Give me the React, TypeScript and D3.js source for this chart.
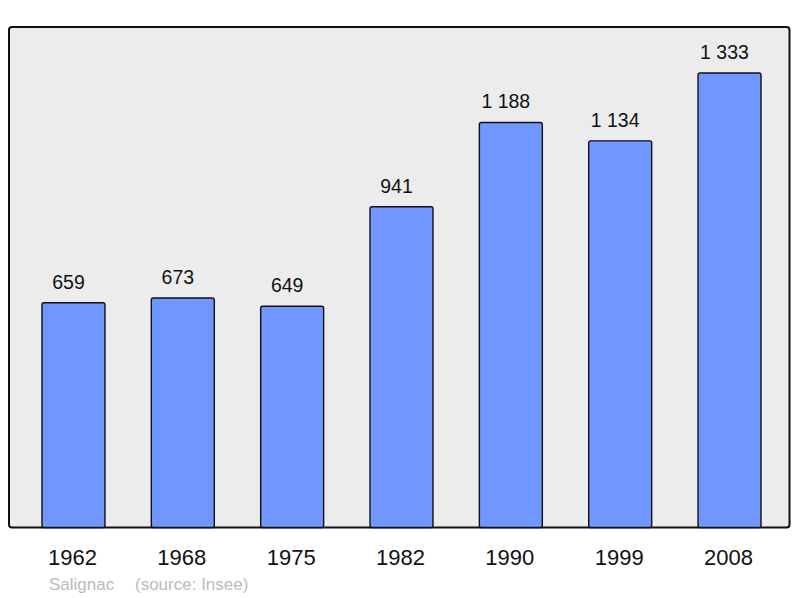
import React from "react";
import * as d3 from "d3";

const years = ["1962", "1968", "1975", "1982", "1990", "1999", "2008"];
const population = [659, 673, 649, 941, 1188, 1134, 1333];
const valueLabels = ["659", "673", "649", "941", "1 188", "1 134", "1 333"];
const townName = "Salignac";
const sourceText = "(source: Insee)";

const W = 800;
const H = 598;
const panel = { x: 9, y: 27, w: 780.5, h: 500.5 };

export default function App() {
  const x = d3
    .scaleBand<string>()
    .domain(years)
    .range([18.8, 784.2])
    .paddingInner(0.424)
    .paddingOuter(0.212);
  const y = d3
    .scaleLinear()
    .domain([0, 1468])
    .range([panel.y + panel.h, panel.y]);

  const font = "'Liberation Sans', Arial, sans-serif";

  return (
    <svg
      width={W}
      height={H}
      style={{ position: "absolute", left: 0, top: 0 }}
      fontFamily={font}
    >
      <rect x={0} y={0} width={W} height={H} fill="#ffffff" />
      <rect
        x={panel.x}
        y={panel.y}
        width={panel.w}
        height={panel.h}
        rx={3}
        fill="#ececec"
        stroke="#111"
        strokeWidth={2}
      />
      {years.map((yr, i) => {
        const bx = x(yr)!;
        const by = y(population[i]);
        const cx = bx + x.bandwidth() / 2;
        return (
          <g key={yr}>
            <rect
              x={bx}
              y={by}
              width={x.bandwidth()}
              height={y(0) - by}
              rx={2}
              fill="#7096ff"
              stroke="#111"
              strokeWidth={1.4}
            />
            <text
              x={cx - 5}
              y={by - 14}
              textAnchor="middle"
              fontSize={19.5}
              fill="#111"
            >
              {valueLabels[i]}
            </text>
            <text
              x={cx - 1}
              y={565}
              textAnchor="middle"
              fontSize={22}
              fill="#111"
            >
              {yr}
            </text>
          </g>
        );
      })}
      <text x={49} y={590} fontSize={17} fill="#bbbbbb">
        {townName}
      </text>
      <text x={135} y={590} fontSize={17} fill="#bbbbbb">
        {sourceText}
      </text>
    </svg>
  );
}
